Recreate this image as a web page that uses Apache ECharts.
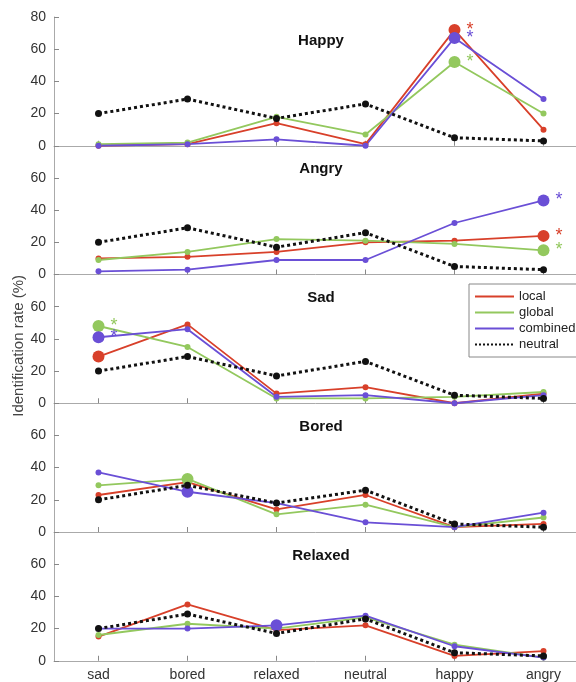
<!DOCTYPE html>
<html>
<head>
<meta charset="utf-8">
<script src="https://cdn.jsdelivr.net/npm/echarts@6/dist/echarts.min.js"></script>
<style>
html,body{margin:0;padding:0;background:#fff;}
#chart{width:576px;height:682px;}
</style>
</head>
<body>
<div id="chart"></div>
<script>
// ---- data ----
const categories = ['sad', 'bored', 'relaxed', 'neutral', 'happy', 'angry'];
const panelTitles = ['Happy', 'Angry', 'Sad', 'Bored', 'Relaxed'];
const yTicks = [0, 20, 40, 60, 80];
const seriesNames = ['local', 'global', 'combined', 'neutral'];

const localVals = [
  [0, 1, 14, 1, 72, 10],
  [10, 11, 14, 20, 21, 24],
  [29, 49, 6, 10, 0, 6],
  [23, 31, 14, 23, 3, 5],
  [15, 35, 19, 22, 3, 6]
];
const globalVals = [
  [1, 2, 18, 7, 52, 20],
  [9, 14, 22, 21, 19, 15],
  [48, 35, 3, 3, 4, 7],
  [29, 33, 11, 17, 3, 9],
  [16, 23, 20, 27, 10, 2]
];
const combinedVals = [
  [0, 1, 4, 0, 67, 29],
  [2, 3, 9, 9, 32, 46],
  [41, 46, 4, 5, 0, 5],
  [37, 25, 18, 6, 3, 12],
  [20, 20, 22, 28, 9, 2]
];
const neutralVals = [
  [20, 29, 17, 26, 5, 3],
  [20, 29, 17, 26, 5, 3],
  [20, 29, 17, 26, 5, 3],
  [20, 29, 18, 26, 5, 3],
  [20, 29, 17, 26, 5, 3]
];
// highlighted (large) points per panel: [series, category index, significant star]
const highlights = [
  [['local', 4, true], ['global', 4, true], ['combined', 4, true]],
  [['local', 5, true], ['global', 5, true], ['combined', 5, true]],
  [['local', 0, false], ['global', 0, true], ['combined', 0, true]],
  [['global', 1, false], ['combined', 1, false]],
  [['combined', 2, false]]
];

// ---- styling ----
const colors = { local: '#d8402a', global: '#93c85e', combined: '#6a4fd6', neutral: '#111111' };
const FONT = '"Liberation Sans", Arial, Helvetica, sans-serif';
const gridLeft = 54, gridWidth = 534, panelTop = 17, panelH = 128.75;
const axisGray = '#aaaaaa';

const valuesBySeries = { local: localVals, global: globalVals, combined: combinedVals, neutral: neutralVals };

const grids = [], xAxes = [], yAxes = [], series = [], titles = [];
panelTitles.forEach((t, p) => {
  grids.push({
    left: gridLeft, width: gridWidth, top: panelTop + p * panelH, height: panelH,
    containLabel: false, outerBoundsMode: 'none'
  });
  xAxes.push({
    type: 'category', gridIndex: p, data: categories, boundaryGap: true,
    axisLine: { show: true, lineStyle: { color: axisGray, width: 1 } },
    axisTick: { show: true, inside: true, length: 5, alignWithLabel: true, lineStyle: { color: '#888' } },
    axisLabel: { show: p === panelTitles.length - 1, fontSize: 14, color: '#333', fontFamily: FONT, margin: 7 },
    splitLine: { show: false }
  });
  const ya = {
    type: 'value', gridIndex: p, min: 0, max: 80, interval: 20,
    axisLine: { show: true, lineStyle: { color: axisGray, width: 1 } },
    axisTick: { show: true, inside: true, length: 5, lineStyle: { color: '#888' } },
    axisLabel: {
      fontSize: 14, color: '#333', fontFamily: FONT, margin: 8,
      formatter: (v) => (p > 0 && v === 80 ? '' : String(v))
    },
    splitLine: { show: false }
  };
  if (p === 2) {
    ya.name = 'Identification rate (%)';
    ya.nameLocation = 'middle';
    ya.nameGap = 28;
    ya.nameMoveOverlap = false;
    ya.nameTextStyle = { fontSize: 15, color: '#444', fontFamily: FONT, padding: [0, 14, 0, 0] };
  }
  yAxes.push(ya);
  titles.push({
    text: t, left: 321, top: panelTop + p * panelH + 16, textAlign: 'center', padding: 0,
    textStyle: { fontSize: 15, fontWeight: 'bold', color: '#111', fontFamily: FONT }
  });

  seriesNames.forEach((name) => {
    const vals = valuesBySeries[name][p];
    const data = vals.map((v, i) => {
      const h = highlights[p].find((e) => e[0] === name && e[1] === i);
      if (!h) return v;
      const item = { value: v, symbolSize: 12 };
      if (h[2]) {
        item.label = {
          show: true, formatter: '*', position: 'right', distance: 6, offset: [0, 0],
          color: colors[name], fontSize: 18, fontFamily: FONT
        };
      }
      return item;
    });
    const isNeutral = name === 'neutral';
    series.push({
      name, type: 'line', xAxisIndex: p, yAxisIndex: p, data,
      symbol: 'circle', symbolSize: isNeutral ? 7 : 6, showSymbol: true,
      itemStyle: { color: colors[name] },
      lineStyle: { color: colors[name], width: isNeutral ? 3 : 1.8, type: isNeutral ? 'dotted' : 'solid' },
      emphasis: { disabled: true },
      z: isNeutral ? 3 : 2
    });
  });
});

const chart = echarts.init(document.getElementById('chart'), null, { renderer: 'canvas' });
chart.setOption({
  animation: false,
  backgroundColor: '#fff',
  title: titles,
  grid: grids,
  xAxis: xAxes,
  yAxis: yAxes,
  legend: {
    data: seriesNames, orient: 'vertical', left: 469, top: 284,
    padding: [6, 2, 6, 5], itemGap: 3, itemWidth: 39, itemHeight: 14,
    borderColor: '#888', borderWidth: 1, backgroundColor: '#fff',
    itemStyle: { opacity: 0 },
    textStyle: { fontSize: 13, color: '#222', fontFamily: FONT },
    selectedMode: false
  },
  series
});
</script>
</body>
</html>
